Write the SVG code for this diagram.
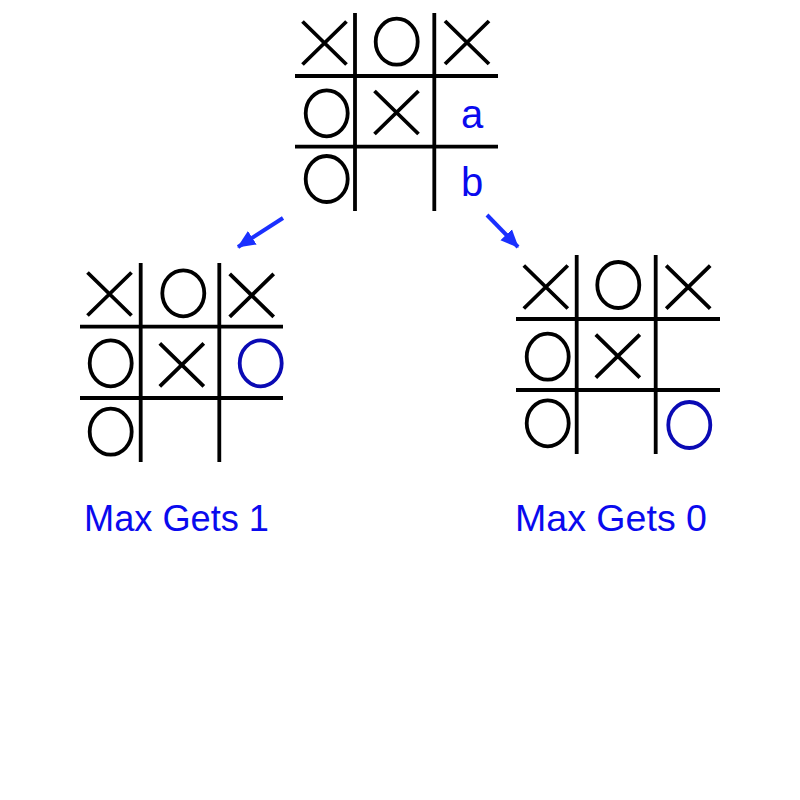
<svg xmlns="http://www.w3.org/2000/svg" xmlns:xlink="http://www.w3.org/1999/xlink" width="800" height="800" viewBox="0 0 800 800">
<style>
.grid{stroke:#000;stroke-width:3.8;fill:none}
.mk{stroke:#000;stroke-width:3.8;fill:none}
.mkb{stroke:#0a0ab4;stroke-width:3.8;fill:none}
.lbl{font-family:"Liberation Sans",Arial,sans-serif;fill:#0a0aee}
.conn{stroke:#1a30ff;stroke-width:4;fill:none}
</style>
<defs>
<path id="X" d="M-22,-21.5 L22,21.5 M22,-21.5 L-22,21.5"/>
<ellipse id="O" cx="0" cy="0" rx="21" ry="23"/>
<marker id="ah" markerUnits="userSpaceOnUse" markerWidth="18" markerHeight="18" viewBox="0 0 18 18" refX="17" refY="9" orient="auto">
<path d="M0,1 L18,9 L0,17 Z" fill="#1a30ff"/>
</marker>
</defs>
<rect width="800" height="800" fill="#fff"/>
<g id="root">
<path class="grid" d="M355,13 V211 M434.3,13 V211 M295,76 H498 M295,146.7 H498"/>
<use href="#X" class="mk" x="324.5" y="43"/>
<use href="#O" class="mk" x="396.7" y="41.7"/>
<use href="#X" class="mk" x="467" y="42.5"/>
<use href="#O" class="mk" x="326.7" y="113.3"/>
<use href="#X" class="mk" x="396.5" y="112.5"/>
<use href="#O" class="mk" x="326.7" y="179"/>
<text class="lbl" x="472" y="128" font-size="40" text-anchor="middle">a</text>
<text class="lbl" x="472" y="196" font-size="40" text-anchor="middle">b</text>
</g>
<g id="left">
<path class="grid" d="M140.7,263 V462 M219.3,263 V462 M80,326.7 H283 M80,398 H283"/>
<use href="#X" class="mk" x="109.5" y="294"/>
<use href="#O" class="mk" x="183.3" y="293.3"/>
<use href="#X" class="mk" x="251.7" y="295.3"/>
<use href="#O" class="mk" x="110.7" y="363.3"/>
<use href="#X" class="mk" x="181.8" y="364.8"/>
<use href="#O" class="mkb" x="260.7" y="363.3"/>
<use href="#O" class="mk" x="110.7" y="431.7"/>
<text class="lbl" x="84" y="531" font-size="37" textLength="185" lengthAdjust="spacingAndGlyphs">Max Gets 1</text>
</g>
<g id="right">
<path class="grid" d="M576.7,255 V454 M655.7,255 V454 M516,319 H720 M516,390 H720"/>
<use href="#X" class="mk" x="545.8" y="287"/>
<use href="#O" class="mk" x="618.3" y="285"/>
<use href="#X" class="mk" x="688.2" y="287.2"/>
<use href="#O" class="mk" x="547.7" y="356.7"/>
<use href="#X" class="mk" x="617.8" y="356.2"/>
<use href="#O" class="mk" x="547.7" y="423.3"/>
<use href="#O" class="mkb" x="689.3" y="425"/>
<text class="lbl" x="515" y="531" font-size="37" textLength="192" lengthAdjust="spacingAndGlyphs">Max Gets 0</text>
</g>
<g id="connectors">
<line class="conn" x1="283" y1="218" x2="238" y2="247" marker-end="url(#ah)"/>
<line class="conn" x1="487" y1="215" x2="518" y2="247" marker-end="url(#ah)"/>
</g>
</svg>
